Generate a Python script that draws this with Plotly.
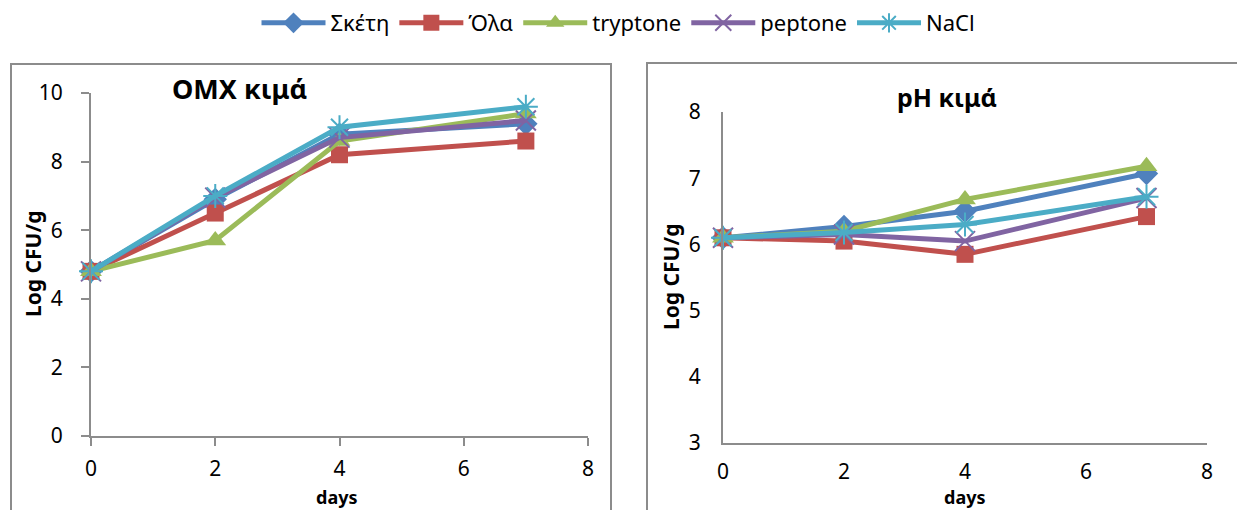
import plotly.graph_objects as go

W, H = 1237, 510

days = [0, 2, 4, 7]
series_names = ["Σκέτη", "Όλα", "tryptone", "peptone", "NaCl"]

# Left panel: ΟΜΧ κιμά
omx_sketi = [4.8, 6.9, 8.8, 9.1]
omx_ola = [4.8, 6.5, 8.2, 8.6]
omx_tryptone = [4.8, 5.7, 8.6, 9.4]
omx_peptone = [4.8, 6.95, 8.7, 9.2]
omx_nacl = [4.8, 7.0, 9.0, 9.6]

# Right panel: pH κιμά
ph_sketi = [6.1, 6.27, 6.5, 7.07]
ph_ola = [6.1, 6.05, 5.85, 6.42]
ph_tryptone = [6.1, 6.2, 6.68, 7.18]
ph_peptone = [6.1, 6.15, 6.05, 6.7]
ph_nacl = [6.1, 6.18, 6.3, 6.72]

left_title = "ΟΜΧ κιμά"
right_title = "pH κιμά"
y_title = "Log CFU/g"
x_title = "days"

colors = ["#4F81BD", "#C0504D", "#9BBB59", "#8064A2", "#4BACC6"]
symbols = ["diamond", "square", "triangle-up", "x-thin-open", "asterisk-open"]
FONT = "Noto Sans"

left_data = [omx_sketi, omx_ola, omx_tryptone, omx_peptone, omx_nacl]
right_data = [ph_sketi, ph_ola, ph_tryptone, ph_peptone, ph_nacl]

fig = go.Figure()

def marker_for(i):
    if symbols[i] in ("x-thin-open", "asterisk-open"):
        return dict(symbol=symbols[i], size=20, color=colors[i],
                    line=dict(color=colors[i], width=2))
    size = {"diamond": 18, "square": 17, "triangle-up": 19}[symbols[i]]
    return dict(symbol=symbols[i], size=size, color=colors[i],
                line=dict(color=colors[i], width=0))

for i, name in enumerate(series_names):
    fig.add_trace(go.Scatter(x=days, y=left_data[i], name=name, mode="lines+markers",
                             line=dict(color=colors[i], width=5), marker=marker_for(i),
                             xaxis="x", yaxis="y", showlegend=True, cliponaxis=False))
for i, name in enumerate(series_names):
    fig.add_trace(go.Scatter(x=days, y=right_data[i], name=name, mode="lines+markers",
                             line=dict(color=colors[i], width=5), marker=marker_for(i),
                             xaxis="x2", yaxis="y2", showlegend=False, cliponaxis=False))

def px_x(p):
    return p / W

def px_y(p):
    return 1 - p / H

axis_color = "#8C8C8C"
tickfont = dict(family=FONT, size=21, color="#000000")

fig.update_layout(
    template="none",
    width=W, height=H,
    margin=dict(l=0, r=0, t=0, b=0, autoexpand=False),
    paper_bgcolor="white", plot_bgcolor="white",
    font=dict(family=FONT, color="#000000"),
    xaxis=dict(domain=[px_x(91), px_x(588)], range=[0, 8], dtick=2, tick0=0,
               showgrid=False, zeroline=False, showline=True, linecolor=axis_color,
               linewidth=2, ticks="outside", ticklen=8, tickcolor=axis_color, tickwidth=2,
               tickfont=tickfont, ticklabelstandoff=5, anchor="y", automargin=False),
    yaxis=dict(domain=[px_y(436), px_y(93)], range=[0, 10], dtick=2, tick0=0,
               showgrid=False, zeroline=False, showline=True, linecolor=axis_color,
               linewidth=2, ticks="outside", ticklen=8, tickcolor=axis_color, tickwidth=2,
               tickfont=tickfont, ticklabelstandoff=14, anchor="x", automargin=False),
    xaxis2=dict(domain=[px_x(723), px_x(1207)], range=[0, 8], dtick=2, tick0=0,
                showgrid=False, zeroline=False, showline=True, linecolor=axis_color,
                linewidth=2, ticks="", tickfont=tickfont, ticklabelstandoff=9, anchor="y2",
                automargin=False),
    yaxis2=dict(domain=[px_y(443), px_y(112)], range=[3, 8], dtick=1, tick0=3,
                showgrid=False, zeroline=False, showline=True, linecolor=axis_color,
                linewidth=2, ticks="", tickfont=tickfont, ticklabelstandoff=16, anchor="x2",
                automargin=False),
    legend=dict(orientation="h", x=0.5, xanchor="center", y=px_y(2), yanchor="top",
                font=dict(family=FONT, size=22, color="#000000"),
                itemwidth=64, bgcolor="rgba(0,0,0,0)", tracegroupgap=0),
    shapes=[
        dict(type="rect", xref="paper", yref="paper",
             x0=px_x(11), x1=px_x(611), y0=px_y(64), y1=px_y(530),
             line=dict(color=axis_color, width=2), layer="below"),
        dict(type="rect", xref="paper", yref="paper",
             x0=px_x(647), x1=px_x(1260), y0=px_y(63), y1=px_y(530),
             line=dict(color=axis_color, width=2), layer="below"),
    ],
    annotations=[
        dict(text="<b>%s</b>" % left_title, x=px_x(239), y=px_y(88), xref="paper", yref="paper",
             showarrow=False, font=dict(family=FONT, size=27), xanchor="center", yanchor="middle"),
        dict(text="<b>%s</b>" % right_title, x=px_x(947), y=px_y(97), xref="paper", yref="paper",
             showarrow=False, font=dict(family=FONT, size=25), xanchor="center", yanchor="middle"),
        dict(text="<b>%s</b>" % y_title, x=px_x(33), y=px_y(264), xref="paper", yref="paper",
             showarrow=False, textangle=-90, font=dict(family=FONT, size=21),
             xanchor="center", yanchor="middle"),
        dict(text="<b>%s</b>" % y_title, x=px_x(671), y=px_y(277), xref="paper", yref="paper",
             showarrow=False, textangle=-90, font=dict(family=FONT, size=21),
             xanchor="center", yanchor="middle"),
        dict(text="<b>%s</b>" % x_title, x=px_x(336), y=px_y(497), xref="paper", yref="paper",
             showarrow=False, font=dict(family=FONT, size=18), xanchor="center", yanchor="middle"),
        dict(text="<b>%s</b>" % x_title, x=px_x(964), y=px_y(497), xref="paper", yref="paper",
             showarrow=False, font=dict(family=FONT, size=18), xanchor="center", yanchor="middle"),
    ],
)

fig.write_html("out.html")
